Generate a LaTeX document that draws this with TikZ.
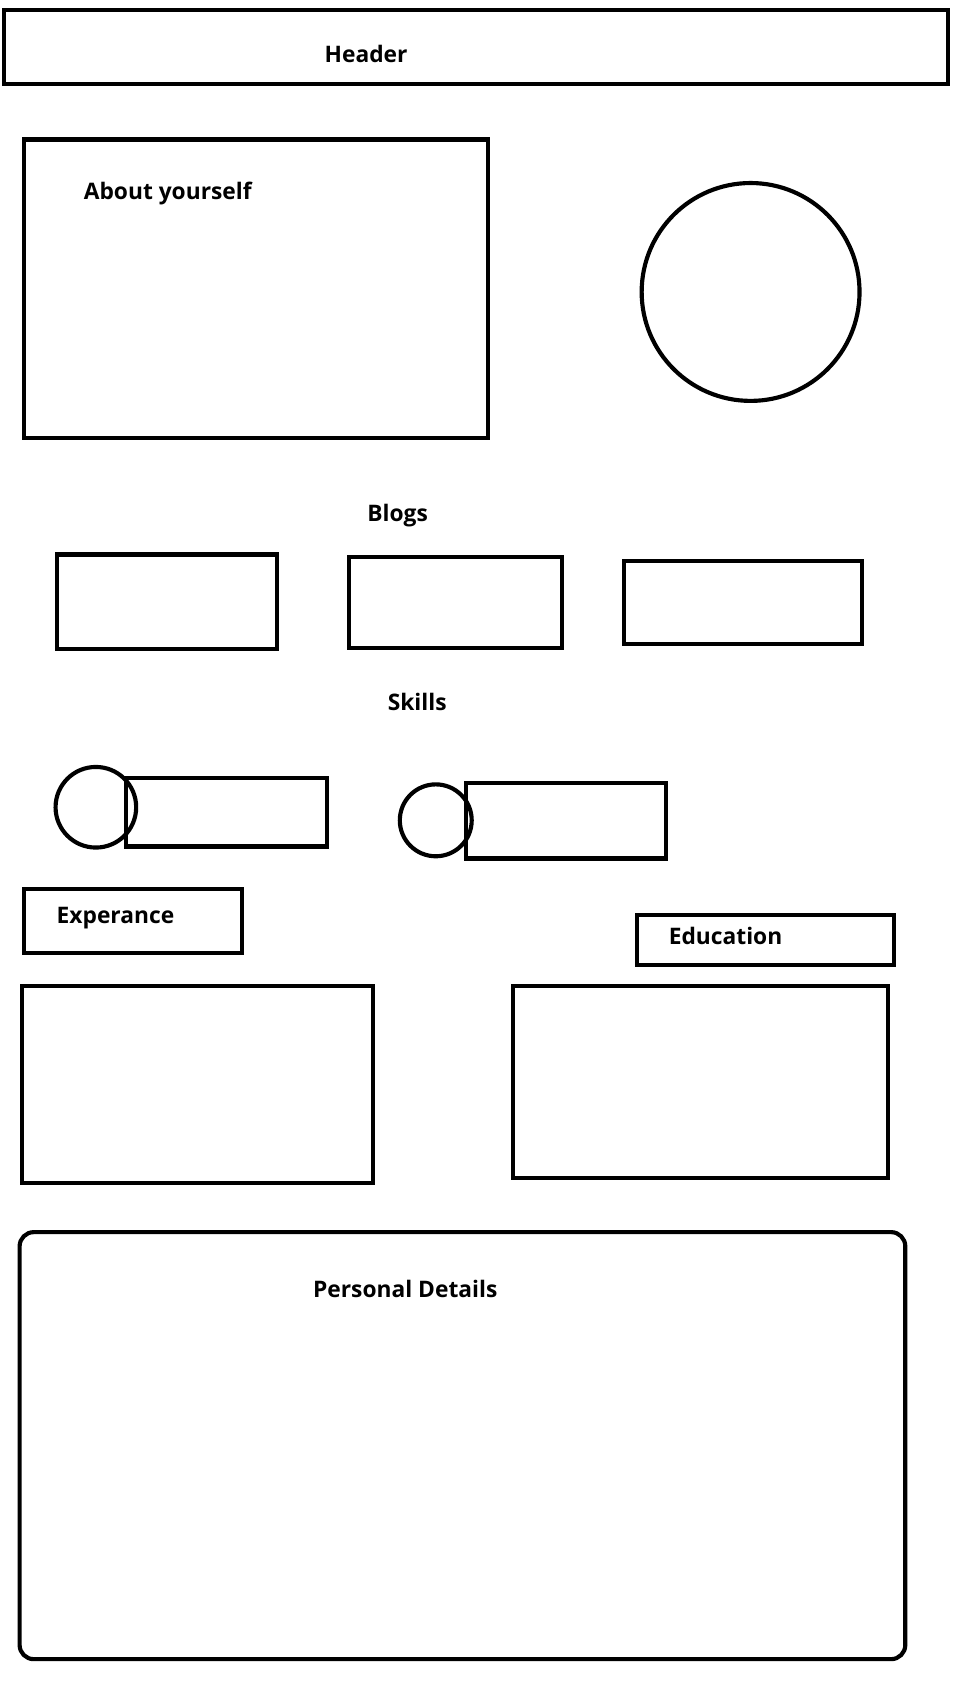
\documentclass[tikz,border=0pt]{standalone}
\usepackage{fontspec}
\setmainfont{Open Sans}
\usetikzlibrary{fit}
\tikzset{
  box/.style={draw=black, line width=3.8pt, inner sep=0pt, rectangle},
  ring/.style={draw=black, line width=3.8pt, circle, inner sep=0pt},
  lbl/.style={font=\fontsize{20.9}{24}\selectfont\bfseries, inner sep=0pt, anchor=base}
}
\begin{document}
\begin{tikzpicture}[x=1pt,y=-1pt]
\useasboundingbox[fill=white] (0,0) rectangle (875,1566);
% header
\node[box, fit={(4,9) (870,77)}] (header) {};
\node[lbl] (headert) at (336,57) {Header};
% about
\node[box, fit={(22,128) (448,402)}] (about) {};
\node[lbl] (aboutt) at (154,183) {About yourself};
\node[ring, minimum size=200pt] (photo) at (689,268) {};
% blogs
\node[lbl] (blogst) at (365,479) {Blogs};
\node[box, fit={(52,509) (254,596)}] (blog1) {};
\node[box, fit={(320,511) (516,595)}] (blog2) {};
\node[box, fit={(573,515) (791,591)}] (blog3) {};
% skills
\node[lbl] (skillst) at (383,652) {Skills};
\node[box, fit={(116,714) (300,777)}] (skill1r) {};
\node[ring, minimum size=74pt] (skill1c) at (88,741) {};
\node[box, fit={(428,719) (611,788)}] (skill2r) {};
\node[ring, minimum size=66pt] (skill2c) at (400,753) {};
% experience / education
\node[box, fit={(22,816) (222,875)}] (exph) {};
\node[lbl] (expt) at (106,848) {Experance};
\node[box, fit={(585,840) (821,886)}] (eduh) {};
\node[lbl] (edut) at (666,867) {Education};
\node[box, fit={(20,905) (342,1086)}] (expb) {};
\node[box, fit={(471,905) (815,1081)}] (edub) {};
% personal details
\node[box, rounded corners=13pt, fit={(18,1131) (831,1523)}] (personal) {};
\node[lbl] (personalt) at (372,1191) {Personal Details};
\end{tikzpicture}
\end{document}
